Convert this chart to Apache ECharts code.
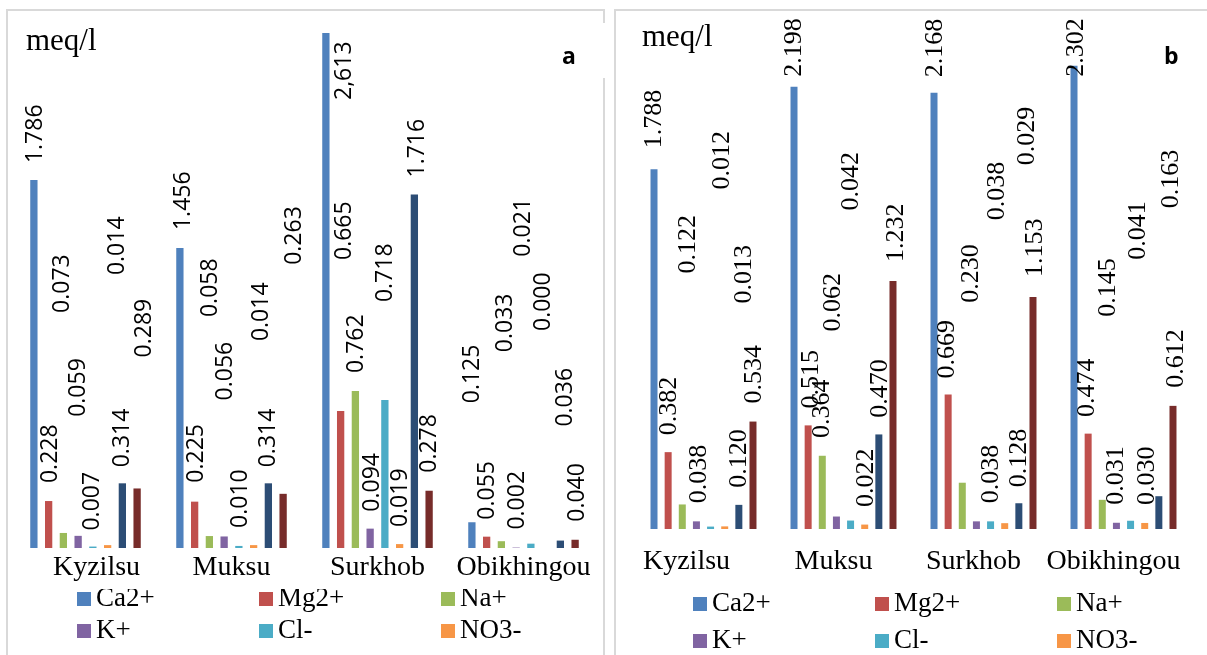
<!DOCTYPE html>
<html>
<head>
<meta charset="utf-8">
<script src="https://cdn.jsdelivr.net/npm/echarts@6/dist/echarts.min.js"></script>
<style>
html,body{margin:0;padding:0;background:#fff;}
#main{width:1207px;height:655px;}
</style>
</head>
<body>
<div id="main"></div>
<script>
// ---- data ----
const categories = ['Kyzilsu', 'Muksu', 'Surkhob', 'Obikhingou'];
const ions = ['Ca2+', 'Mg2+', 'Na+', 'K+', 'Cl-', 'NO3-', 'HCO3-', 'SO42-'];
// legend entries visible in the original (the last row is cut off there)
const legendIons = ['Ca2+', 'Mg2+', 'Na+', 'K+', 'Cl-', 'NO3-'];

// panel a (meq/l), one array per ion across categories
const caA   = [1.786, 1.456, 2.613, 0.125];
const mgA   = [0.228, 0.225, 0.665, 0.055];
const naA   = [0.073, 0.058, 0.762, 0.033];
const kA    = [0.059, 0.056, 0.094, 0.002];
const clA   = [0.007, 0.010, 0.718, 0.021];
const no3A  = [0.014, 0.014, 0.019, 0.000];
const hco3A = [0.314, 0.314, 1.716, 0.036];
const so4A  = [0.289, 0.263, 0.278, 0.040];

// panel b (meq/l)
const caB   = [1.788, 2.198, 2.168, 2.302];
const mgB   = [0.382, 0.515, 0.669, 0.474];
const naB   = [0.122, 0.364, 0.230, 0.145];
const kB    = [0.038, 0.062, 0.038, 0.031];
const clB   = [0.012, 0.042, 0.038, 0.041];
const no3B  = [0.013, 0.022, 0.029, 0.030];
const hco3B = [0.120, 0.470, 0.128, 0.163];
const so4B  = [0.534, 1.232, 1.153, 0.612];

const valuesA = [caA, mgA, naA, kA, clA, no3A, hco3A, so4A];
const valuesB = [caB, mgB, naB, kB, clB, no3B, hco3B, so4B];

// label written with a decimal comma in the original (panel a, Surkhob, Ca2+)
const commaLabelsA = [[0, 2]];

// ---- label layout (px): lift above bar top, sideways shift ----
const liftA = [
  [17, 18, -67, 119], [18, 19, 151, 17], [220, 219, 18, 189], [119, 136, 17, 18],
  [16, 18, 98, 287], [270, 204, 17, 217], [16, 16, 17, 114], [131, 229, 18, 18]
];
const shiftA = [
  [1.5, 4, 18.5, 1], [1.5, 2, 4, 1], [-0.5, 1.3, 1, 4], [0, 1.6, 2.4, 1.4],
  [-0.5, 2, 0.7, -7], [9.5, 8, 1, -2], [0.5, 0.5, 3.3, 5], [7, 11, 0.6, 2.6]
];
const liftB = [
  [21, 10, 15.6, -11], [17, 17, 16, 16.6], [231, 17.7, 180, 183], [18, 185, 18, 18],
  [337, 310, 301, 261], [223, 17.6, 358, 18], [17, 16.6, 16, 288], [18, 19, 20, 18]
];
const shiftB = [
  [0.5, 0, 1.5, 2.5], [1, 3, -0.6, -0.6], [6, 0, 9, 6], [3, -3, 15, 0],
  [12, 0.4, 6.5, 8], [19, 1.3, 22, 2], [0.6, 1.2, 0.7, 12], [1.5, 3, 2.5, 3.5]
];

const colors = ['#4F81BD', '#C0504D', '#9BBB59', '#8064A2', '#4BACC6', '#F79646', '#2C4D75', '#772C2A'];

function buildSeries(values, lift, shift, axisIdx, labelFont, labelSize, barWidth, commaList) {
  return ions.map((name, i) => ({
    name: name,
    type: 'bar',
    xAxisIndex: axisIdx,
    yAxisIndex: axisIdx,
    barWidth: barWidth,
    barGap: '102%',
    clip: true,
    itemStyle: { color: colors[i] },
    label: {
      show: true, position: 'top', rotate: 90, align: 'left', verticalAlign: 'middle',
      fontFamily: labelFont, fontSize: labelSize, color: '#000',
      formatter: function (p) {
        let s = p.value.toFixed(3);
        if (commaList && commaList.some(c => c[0] === i && c[1] === p.dataIndex)) s = s.replace('.', ',');
        return s;
      }
    },
    data: values[i].map((v, j) => ({
      value: v,
      label: { distance: lift[i][j], offset: [0, shift[i][j]] }
    }))
  }));
}

const chart = echarts.init(document.getElementById('main'), null, { renderer: 'canvas' });

const serif = 'Liberation Serif';
const catStyle = { fontFamily: serif, fontSize: 28, color: '#000' };
const option = {
  animation: false,
  backgroundColor: '#fff',
  color: colors,
  graphic: [
    { type: 'rect', silent: true, z: -10, shape: { x: 7, y: 10, width: 597, height: 660 }, style: { fill: 'none', stroke: '#d9d9d9', lineWidth: 2 } },
    { type: 'rect', silent: true, z: -10, shape: { x: 615, y: 10, width: 620, height: 660 }, style: { fill: 'none', stroke: '#d9d9d9', lineWidth: 2 } },
    { type: 'rect', silent: true, z: -5, shape: { x: 599, y: 23, width: 8, height: 55 }, style: { fill: '#fff' } },
    // panel a: category names are cut at the bottom by the legend box
    { type: 'rect', silent: true, z: 100, shape: { x: 12, y: 581, width: 590, height: 8 }, style: { fill: '#fff' } }
  ],
  title: [
    { text: 'meq/l', left: 26, top: 26, padding: 0, textStyle: { fontFamily: serif, fontSize: 31, fontWeight: 'normal', color: '#000' } },
    { text: 'meq/l', left: 642, top: 22, padding: 0, textStyle: { fontFamily: serif, fontSize: 31, fontWeight: 'normal', color: '#000' } },
    { text: 'a', left: 562, top: 46, padding: 0, textStyle: { fontFamily: 'Open Sans', fontSize: 23, fontWeight: 'bold', color: '#000' } },
    { text: 'b', left: 1164, top: 46, padding: 0, textStyle: { fontFamily: 'Open Sans', fontSize: 23, fontWeight: 'bold', color: '#000' } }
  ],
  legend: [
    {
      data: legendIons, left: 77, top: 585.5, width: 560, padding: 0,
      itemWidth: 14, itemHeight: 14, itemGap: 5, icon: 'rect',
      textStyle: { fontFamily: serif, fontSize: 27, color: '#000', width: 158, lineHeight: 27 }
    },
    {
      data: legendIons, left: 693, top: 590.5, width: 560, padding: 0,
      itemWidth: 14, itemHeight: 14, itemGap: 10, icon: 'rect',
      textStyle: { fontFamily: serif, fontSize: 27, color: '#000', width: 153, lineHeight: 27 }
    }
  ],
  grid: [
    { left: 12.5, top: 33, width: 584, height: 515, containLabel: false },
    { left: 633.5, top: 26, width: 560, height: 503, containLabel: false }
  ],
  xAxis: [
    {
      type: 'category', gridIndex: 0, data: categories,
      axisLine: { show: false }, axisTick: { show: false },
      axisLabel: {
        interval: 0, margin: 6, fontFamily: serif, fontSize: 28, color: '#000',
        formatter: function (v, idx) { return idx === 0 ? '{s|' + v + '}' : v; },
        rich: { s: Object.assign({ padding: [0, 0, 0, 22] }, catStyle) }
      }
    },
    {
      type: 'category', gridIndex: 1, data: categories,
      axisLine: { show: false }, axisTick: { show: false },
      axisLabel: {
        interval: 0, margin: 19, fontFamily: serif, fontSize: 28, color: '#000', padding: [0, 20, 0, 0],
        formatter: function (v, idx) { return idx === 0 ? '{s|' + v + '}' : v; },
        rich: { s: Object.assign({ padding: [0, 14, 0, 0] }, catStyle) }
      }
    }
  ],
  yAxis: [
    { type: 'value', gridIndex: 0, min: 0, max: 2.5, show: false, splitLine: { show: false } },
    { type: 'value', gridIndex: 1, min: 0, max: 2.5, show: false, splitLine: { show: false } }
  ],
  series: [].concat(
    buildSeries(valuesA, liftA, shiftA, 0, 'Open Sans', 23, 7.3, commaLabelsA),
    buildSeries(valuesB, liftB, shiftB, 1, serif, 26, 7, null)
  )
};
chart.setOption(option);
</script>
</body>
</html>
